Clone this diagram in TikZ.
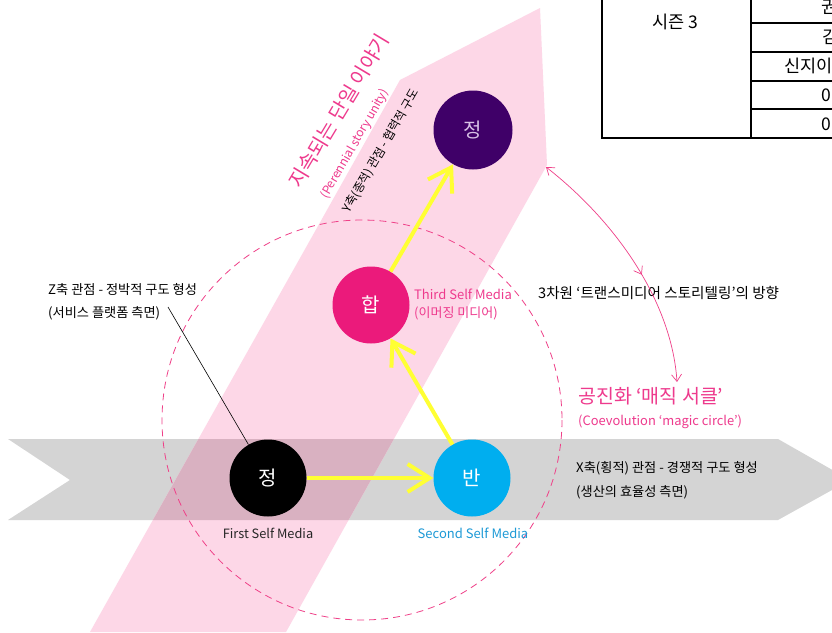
\documentclass[tikz,border=0pt]{standalone}
\usepackage{fontspec}
\setmainfont{Noto Sans CJK KR}
\usetikzlibrary{arrows.meta,decorations.markings}
\definecolor{pinkband}{HTML}{FDD7E7}
\definecolor{greyband}{HTML}{D4D4D4}
\definecolor{overlapc}{HTML}{D9B1C1}
\definecolor{magc}{HTML}{EB1A7B}
\definecolor{magtext}{HTML}{EE3A8D}
\definecolor{bluec}{HTML}{00AEEF}
\definecolor{bluetext}{HTML}{1E9AD6}
\definecolor{purplec}{HTML}{3F0068}
\definecolor{lilac}{HTML}{D8C2E6}
\definecolor{yellowc}{HTML}{FFFF33}
\definecolor{dashc}{HTML}{EF4088}
\begin{document}
\begin{tikzpicture}[x=1pt,y=-1pt,
  circnode/.style={circle, minimum size=77pt, inner sep=0pt, font=\fontsize{20}{24}\selectfont},
  lbl/.style={anchor=west, inner sep=0pt, font=\fontsize{13.2}{15}\selectfont},
  caption/.style={inner sep=0pt, font=\fontsize{13}{16}\selectfont},
  yarrow/.style={draw=yellowc, line width=4pt, -{Straight Barb[length=22pt,width=28pt]}},
  tabtext/.style={inner sep=0pt, font=\fontsize{17.5}{20}\selectfont},
  tabline/.style={draw=black, line width=1.2pt}
]
\clip (0,0) rectangle (832,632);
\fill[white] (0,0) rectangle (832,632);
% grey horizontal band
\fill[greyband] (8,439) -- (778,439) -- (850,480) -- (778,520) -- (8,520) -- (70,480) -- cycle;
% pink diagonal band
\fill[pinkband] (90,632) -- (400,80) -- (540,8) -- (547,165) -- (286,632) -- cycle;
\begin{scope}
  \clip (8,439) -- (778,439) -- (850,480) -- (778,520) -- (8,520) -- (70,480) -- cycle;
  \fill[overlapc] (90,632) -- (400,80) -- (540,8) -- (547,165) -- (286,632) -- cycle;
\end{scope}
% dashed magic circle
\draw[dashc, line width=0.8pt, dash pattern=on 7pt off 5pt] (362,420) circle[radius=200];

% table (top right)
\draw[tabline] (602,-5) -- (602,138) -- (840,138);
\draw[tabline] (751,-5) -- (751,138);
\foreach \yy in {23,52,81,109} \draw[tabline] (751,\yy) -- (840,\yy);
\node[tabtext] (s3) at (675,22) {시즌 3};
\node[tabtext, anchor=west] (r1) at (821,7) {권};
\node[tabtext, anchor=west] (r2) at (822,37) {김};
\node[tabtext, anchor=west] (r3) at (784,66) {신지이};
\node[tabtext, anchor=west] (r4) at (821,95) {0};
\node[tabtext, anchor=west] (r5) at (821,124) {0};

% circles
\node[circnode, fill=black, text=white] (n1) at (268,478) {정};
\node[circnode, fill=bluec, text=white] (n2) at (472,478) {반};
\node[circnode, fill=magc, text=white] (n3) at (371,305) {합};
\node[circnode, fill=purplec, text=lilac, minimum size=79pt] (n4) at (473,130) {정};

% yellow arrows
\draw[yarrow] (n1) -- (n2);
\draw[yarrow] (n2) -- (n3);
\draw[yarrow] (n3) -- (n4);

% captions
\node[caption, text=black!85, font=\fontsize{12.8}{16}\selectfont] (c1) at (268,533) {First Self Media};
\node[caption, text=bluetext] (c2) at (473,533) {Second Self Media};
\node[lbl, text=magtext, font=\fontsize{13}{15}\selectfont] (c3) at (414,294) {Third Self Media};
\node[lbl, text=magtext, font=\fontsize{13}{15}\selectfont] (c3b) at (414,313) {(이머징 미디어)};

% Z-axis label
\node[lbl] (z1) at (48,290) {Z축 관점 - 정박적 구도 형성};
\node[lbl] (z2) at (48,313) {(서비스 플랫폼 측면)};
\coordinate (zl) at (168,307);
\draw[black, line width=0.6pt] (zl) -- (n1);

% X-axis label
\node[lbl] (x1) at (576,468) {X축(횡적) 관점 - 경쟁적 구도 형성};
\node[lbl] (x2) at (576,492) {(생산의 효율성 측면)};

% 3D direction label
\node[lbl, font=\fontsize{14.6}{17}\selectfont] (d3) at (538,293) {3차원 ‘트랜스미디어 스토리텔링’의 방향};

% magic circle label
\node[lbl, text=magtext, font=\fontsize{19.5}{23}\selectfont] (m1) at (578,396) {공진화 ‘매직 서클’};
\node[lbl, text=magtext, font=\fontsize{12.9}{16}\selectfont] (m2) at (578,422) {(Coevolution ‘magic circle’)};

% rotated labels along the pink band
\node[inner sep=0pt, rotate=59, text=magtext, font=\fontsize{20}{24}\selectfont] (p1) at (339,111) {지속되는 단일 이야기};
\node[inner sep=0pt, rotate=60, text=magtext, font=\fontsize{12}{14}\selectfont] (p2) at (355,144) {(Perennial story unity)};
\node[inner sep=0pt, rotate=60, text=black, font=\fontsize{12}{14}\selectfont] (p3) at (381,151) {Y축(종적) 관점 - 협력적 구도};

% curved double arrow
\coordinate (ca) at (546,167);
\coordinate (cb) at (677,382);
\draw[dashc, line width=0.7pt, {Straight Barb[length=7pt,width=10pt]}-{Straight Barb[length=7pt,width=10pt]},
  postaction={decorate},
  decoration={markings, mark=at position 0.56 with {\arrow{Straight Barb[length=7pt,width=10pt]}}}]
  (ca) .. controls (620,225) and (672,305) .. (cb);
\end{tikzpicture}
\end{document}
